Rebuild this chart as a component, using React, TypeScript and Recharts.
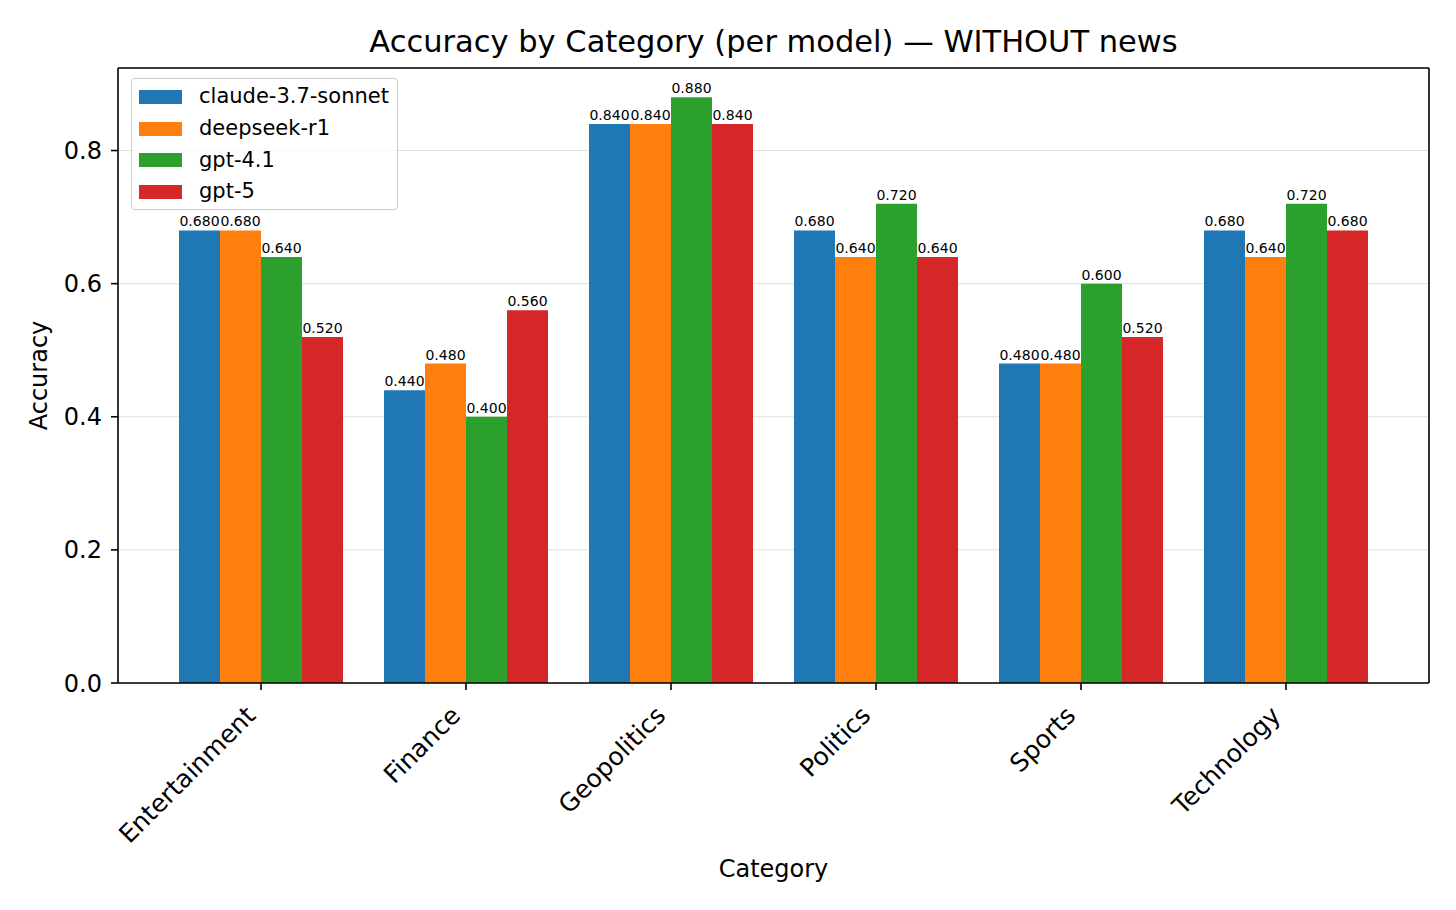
import { BarChart, Bar, XAxis, YAxis, CartesianGrid, LabelList, Legend } from 'recharts';

const categories = ['Entertainment', 'Finance', 'Geopolitics', 'Politics', 'Sports', 'Technology'];
const models = ['claude-3.7-sonnet', 'deepseek-r1', 'gpt-4.1', 'gpt-5'];
const colors = ['#1f77b4', '#ff7f0e', '#2ca02c', '#d62728'];

const claudeValues = [0.68, 0.44, 0.84, 0.68, 0.48, 0.68];
const deepseekValues = [0.68, 0.48, 0.84, 0.64, 0.48, 0.64];
const gpt41Values = [0.64, 0.4, 0.88, 0.72, 0.6, 0.72];
const gpt5Values = [0.52, 0.56, 0.84, 0.64, 0.52, 0.68];

const yTicks = [0, 0.2, 0.4, 0.6, 0.8];

const seriesValues = [claudeValues, deepseekValues, gpt41Values, gpt5Values];

const data = categories.map((category, i) => {
  const row: Record<string, string | number> = { category };
  models.forEach((m, j) => {
    row[m] = seriesValues[j][i];
  });
  return row;
});

const FONT = '"DejaVu Sans", sans-serif';

function CategoryTick(props: any) {
  const { x, y, payload } = props;
  const px = x - 4;
  const py = y + 25;
  return (
    <text
      x={px}
      y={py}
      transform={`rotate(-45, ${px}, ${py})`}
      textAnchor="end"
      fontSize={25}
      fontFamily={FONT}
      fill="#000"
    >
      {payload.value}
    </text>
  );
}

function LegendBox() {
  return (
    <div
      style={{
        boxSizing: 'border-box',
        width: 267,
        height: 132,
        border: '1.5px solid #cccccc',
        borderRadius: 4,
        background: 'rgba(255,255,255,0.8)',
        padding: '2px 0 0 7px',
        fontFamily: FONT,
        fontSize: 21,
        color: '#000',
      }}
    >
      {models.map((m, i) => (
        <div key={m} style={{ display: 'flex', alignItems: 'center', height: 31.7 }}>
          <span style={{ width: 43, height: 14, background: colors[i], display: 'inline-block' }} />
          <span style={{ marginLeft: 17, lineHeight: 1 }}>{m}</span>
        </div>
      ))}
    </div>
  );
}

export default function App() {
  return (
    <div style={{ position: 'absolute', left: 0, top: 0, width: 1456, height: 910, background: '#fff' }}>
      <BarChart
        width={1456}
        height={910}
        data={data}
        margin={{ top: 67, right: 26, bottom: 0, left: 0 }}
        barCategoryGap="10%"
        barGap={0}
      >
        <CartesianGrid horizontal vertical={false} stroke="#dedede" strokeWidth={1} />
        <XAxis
          dataKey="category"
          height={227}
          padding={{ left: 40.5, right: 40.5 }}
          tick={<CategoryTick />}
          tickSize={7}
          tickMargin={2}
          axisLine={{ stroke: '#000', strokeWidth: 1.6 }}
          tickLine={{ stroke: '#000', strokeWidth: 1.6 }}
          interval={0}
        />
        <XAxis
          xAxisId="top"
          dataKey="category"
          orientation="top"
          height={1}
          tick={false}
          tickLine={false}
          axisLine={{ stroke: '#000', strokeWidth: 1.6 }}
        />
        <YAxis
          width={118}
          domain={[0, 0.924]}
          ticks={yTicks}
          tickFormatter={(v: number) => v.toFixed(1)}
          tick={{ fontSize: 24, fontFamily: FONT, fill: '#000' }}
          tickSize={7}
          tickMargin={9}
          axisLine={{ stroke: '#000', strokeWidth: 1.6 }}
          tickLine={{ stroke: '#000', strokeWidth: 1.6 }}
          allowDataOverflow
        />
        <YAxis
          yAxisId="right"
          orientation="right"
          width={1}
          domain={[0, 0.924]}
          tick={false}
          tickLine={false}
          axisLine={{ stroke: '#000', strokeWidth: 1.6 }}
        />
        <Legend
          layout="horizontal"
          verticalAlign="middle"
          align="center"
          content={<LegendBox />}
          wrapperStyle={{ position: 'absolute', left: 131, top: 78, width: 267, height: 132 }}
        />
        {models.map((m, i) => (
          <Bar key={m} dataKey={m} fill={colors[i]} isAnimationActive={false}>
            <LabelList
              dataKey={m}
              position="top"
              offset={4}
              formatter={(v: any) => Number(v).toFixed(3)}
              style={{ fontSize: 14, fontFamily: FONT, fill: '#000' }}
            />
          </Bar>
        ))}
      </BarChart>
      <svg
        width={1456}
        height={910}
        style={{ position: 'absolute', left: 0, top: 0, pointerEvents: 'none' }}
      >
        <text x={773.5} y={52} textAnchor="middle" fontSize={30.5} fontFamily={FONT} fill="#000">
          Accuracy by Category (per model) — WITHOUT news
        </text>
        <text x={773.5} y={877} textAnchor="middle" fontSize={24} fontFamily={FONT} fill="#000">
          Category
        </text>
        <text
          x={47}
          y={375.5}
          transform="rotate(-90, 47, 375.5)"
          textAnchor="middle"
          fontSize={24}
          fontFamily={FONT}
          fill="#000"
        >
          Accuracy
        </text>
      </svg>
    </div>
  );
}
